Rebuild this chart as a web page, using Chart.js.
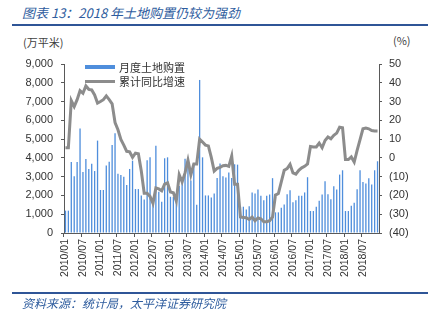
<!DOCTYPE html>
<html>
<head>
<meta charset="utf-8">
<script src="https://cdn.jsdelivr.net/npm/chart.js@4.4.1/dist/chart.umd.min.js"></script>
<style>
  html, body { margin: 0; padding: 0; background: #fff; }
  #wrap { position: relative; width: 433px; height: 324px; overflow: hidden; }
  #chart { position: absolute; left: 0; top: 0; }
  .cap { position: absolute; left: 22px; font-family: "Noto Sans CJK SC", sans-serif; font-style: italic; color: #2E5C9E; white-space: nowrap; }
  .rule { position: absolute; left: 12px; width: 416px; height: 2px; background: #2F5597; }
  .unit { position: absolute; font-family: "Noto Sans CJK SC", sans-serif; font-size: 11px; line-height: 14px; color: #404040; }
  .leg { position: absolute; left: 85px; font-family: "Noto Sans CJK SC", sans-serif; font-size: 11px; line-height: 14px; color: #333; }
  .sw { position: absolute; left: 0; width: 30px; }
  .leg span { position: absolute; left: 34px; top: 0; white-space: nowrap; }
</style>
</head>
<body>
<div id="wrap">
  <div class="cap" style="top:4px; font-size:13px; line-height:17px;">图表 13：2018 年土地购置仍较为强劲</div>
  <div class="rule" style="top:24px;"></div>
  <div class="unit" style="left:23px; top:35px;">(万平米)</div>
  <div class="unit" style="left:393px; top:33px;">(%)</div>
  <canvas id="chart" width="433" height="324"></canvas>
  <div class="leg" style="top:60px;"><div class="sw" style="top:5px; height:4px; background:#4F8EDC;"></div><span>月度土地购置</span></div>
  <div class="leg" style="top:74px;"><div class="sw" style="top:6px; height:3px; background:#8C8C8C;"></div><span>累计同比增速</span></div>
  <div class="rule" style="top:292px;"></div>
  <div class="cap" style="top:295px; font-size:12px; line-height:15px;">资料来源：统计局，太平洋证券研究院</div>
</div>
<script>
const years = ['2010', '2011', '2012', '2013', '2014', '2015', '2016', '2017', '2018'];
const months = ['01', '02', '03', '04', '05', '06', '07', '08', '09', '10', '11', '12'];

// 月度土地购置 (万平米)
const landMonthly = [
  1190, 1190, 3780, 3020, 3780, 5570, 3250, 3940, 3410, 3690, 3300, 4920,
  2290, 2290, 3600, 3800, 4690, 5310, 3160, 3090, 3000, 2560, 3410, 3850,
  2340, 2340, 2000, 1790, 3880, 4030, 1490, 4650, 2200, 1670, 3980, 4030,
  1930, 1930, 2100, 2500, 2900, 3950, 3500, 2800, 3600, 1500, 8150, 4030,
  2000, 2000, 1890, 2100, 2930, 3700, 3020, 2950, 3220, 2930, 3660, 3640,
  1400, 1400, 1250, 1430, 2160, 2100, 2320, 1980, 1750, 1980, 2050, 2920,
  1100, 1100, 1340, 1520, 2070, 2280, 1640, 1750, 1980, 1980, 2160, 2970,
  1170, 1170, 1400, 1720, 2050, 2760, 2070, 1800, 2490, 2320, 3110, 3340,
  1170, 1170, 1450, 1610, 2330, 3340, 2720, 2630, 2920, 2580, 3340, 3820
];

// 累计同比增速 (%)
const cumGrowth = [
  5.4, 5.4, 30.5, 27.3, 31, 35.8, 34.4, 38.3, 36.5, 36.2, 33.5, 29.2,
  30, 31, 33, 31, 28.8, 18.8, 15, 9.8, 6.8, 3.5, 3.2, 0.3,
  2.5, 2.2, -7, -18.8, -18.8, -20.5, -24.2, -16, -16.5, -17.5, -14, -13.3,
  -18.2, -18.6, -23, -9, -12.8, -8, -1.2, -9, -3.2, -3.2, 10, 8.5,
  6.8, 6.4, 0.3, -7, -5.6, -5, -4.2, -4, -4.5, 1, -14.1, -14.1,
  -31.5, -31.7, -31.9, -32.8, -31.5, -33.5, -32, -32.4, -34, -34, -33.5, -31.5,
  -19.8, -19, -12.8, -6.6, -5.7, -3.4, -8, -8.7, -6.6, -5.3, -4.5, -3.2,
  6.1, 5.8, 5.8, 7.9, 5.4, 9.3, 11.1, 10.2, 12, 13.2, 16.4, 16.1,
  -0.9, -0.9, 0.5, -2.2, 4, 9.7, 15.5, 15.9, 15.5, 14.6, 14.3, 14.3
];

const labels = [];
years.forEach(y => months.forEach(m => labels.push(y + '/' + m)));

const axisColor = '#595959';
const tickFont = { family: '"Liberation Sans", Arial, sans-serif', size: 11 };

new Chart(document.getElementById('chart'), {
  type: 'bar',
  data: {
    labels: labels,
    datasets: [
      {
        type: 'line',
        label: '累计同比增速',
        data: cumGrowth,
        yAxisID: 'y1',
        borderColor: '#8C8C8C',
        borderWidth: 3,
        pointRadius: 0,
        tension: 0,
        order: 0
      },
      {
        label: '月度土地购置',
        data: landMonthly,
        yAxisID: 'y',
        backgroundColor: '#4F8EDC',
        barPercentage: 0.45,
        categoryPercentage: 1,
        order: 1
      }
    ]
  },
  options: {
    responsive: false,
    animation: false,
    devicePixelRatio: 1,
    layout: { padding: { top: 64, left: 0, right: 0, bottom: 0 } },
    plugins: {
      legend: { display: false },
      tooltip: { enabled: false }
    },
    scales: {
      x: {
        grid: {
          drawOnChartArea: false,
          drawTicks: true,
          tickLength: 4,
          color: ctx => (ctx.index % 6 === 0 ? axisColor : 'rgba(0,0,0,0)')
        },
        border: { display: true, color: axisColor },
        ticks: {
          autoSkip: false,
          minRotation: 90,
          maxRotation: 90,
          padding: 2,
          color: '#333',
          font: { family: '"Liberation Sans", Arial, sans-serif', size: 10.5 },
          callback: function (v, i) { return i % 6 === 0 ? labels[i] : ''; }
        },
        afterFit: s => { s.height = 91; }
      },
      y: {
        position: 'left',
        min: 0,
        max: 9000,
        grid: { drawOnChartArea: false, tickLength: 3, color: axisColor },
        border: { display: true, color: axisColor },
        ticks: {
          stepSize: 1000,
          padding: 8,
          color: '#333',
          font: tickFont,
          callback: v => v.toLocaleString('en-US')
        },
        afterFit: s => { s.width = 64; }
      },
      y1: {
        position: 'right',
        min: -40,
        max: 50,
        grid: { drawOnChartArea: false, tickLength: 3, color: axisColor },
        border: { display: true, color: axisColor },
        ticks: {
          stepSize: 10,
          padding: 7,
          color: '#333',
          font: tickFont,
          callback: v => (v < 0 ? '(' + (-v) + ')' : v)
        },
        afterFit: s => { s.width = 54; }
      }
    }
  }
});
</script>
</body>
</html>
